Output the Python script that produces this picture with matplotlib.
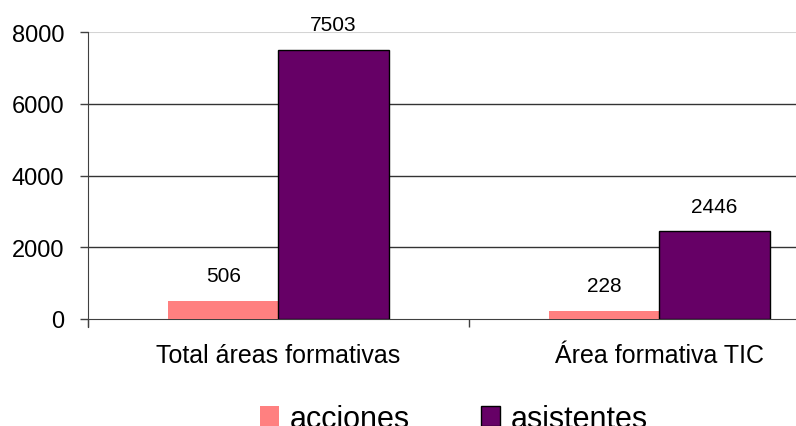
import matplotlib
matplotlib.use("Agg")
import matplotlib.pyplot as plt
import numpy as np

categories = ["Total áreas formativas", "Área formativa TIC"]
series_names = ["acciones", "asistentes"]
acciones = [506, 228]
asistentes = [7503, 2446]
yticks = [0, 2000, 4000, 6000, 8000]

plt.rcParams['font.family'] = ['Liberation Sans', 'DejaVu Sans']

W, H = 796, 427
fig = plt.figure(figsize=(W / 100, H / 100), dpi=100)
ax = fig.add_axes([88 / W, 1 - 320 / H, (850 - 88) / W, 287 / H])

x = np.arange(len(categories)) + 0.5
bw = 0.289
b1 = ax.bar(x - bw / 2, acciones, bw, color="#FF8080", edgecolor="none", label=series_names[0], zorder=3)
b2 = ax.bar(x + bw / 2, asistentes, bw, color="#660066", edgecolor="black", linewidth=1, label=series_names[1], zorder=3)

for bars, vals in ((b1, acciones), (b2, asistentes)):
    for r, v in zip(bars, vals):
        ax.annotate(str(v), (r.get_x() + r.get_width() / 2, v), xytext=(0, 14),
                    textcoords="offset points", ha="center", va="baseline", fontsize=15)

ax.set_xlim(0, 2)
ax.set_ylim(0, 8000)
ax.set_yticks(yticks)
ax.set_yticklabels([str(t) for t in yticks], fontsize=17)
for t in yticks[1:-1]:
    ax.axhline(t, color="#333333", linewidth=1, zorder=1)
ax.axhline(8000, color="#d4d4d4", linewidth=1.5, zorder=1)

ax.set_xticks([0, 1, 2])
ax.set_xticklabels([])
ax.set_xticks(x, minor=True)
ax.set_xticklabels(categories, minor=True, fontsize=18)
ax.tick_params(axis="x", which="minor", length=0, pad=17)
ax.tick_params(axis="x", which="major", length=6, color="#404040", width=1)
ax.tick_params(axis="y", length=6, color="#404040", width=1, pad=11)

for s in ("top", "right"):
    ax.spines[s].set_visible(False)
ax.spines["left"].set_color("#404040")
ax.spines["bottom"].set_color("#404040")
ax.spines["left"].set_bounds(-8000 * 8 / 287, 8000)

fig.legend(handles=[b1, b2], labels=series_names, loc="center",
           bbox_to_anchor=(454 / W, 1 - 420 / H), ncol=2, frameon=False,
           fontsize=22, handlelength=0.62, handleheight=0.62,
           handletextpad=0.33, columnspacing=2.35, borderaxespad=0, borderpad=0)

fig.savefig("out.png", dpi=100)
